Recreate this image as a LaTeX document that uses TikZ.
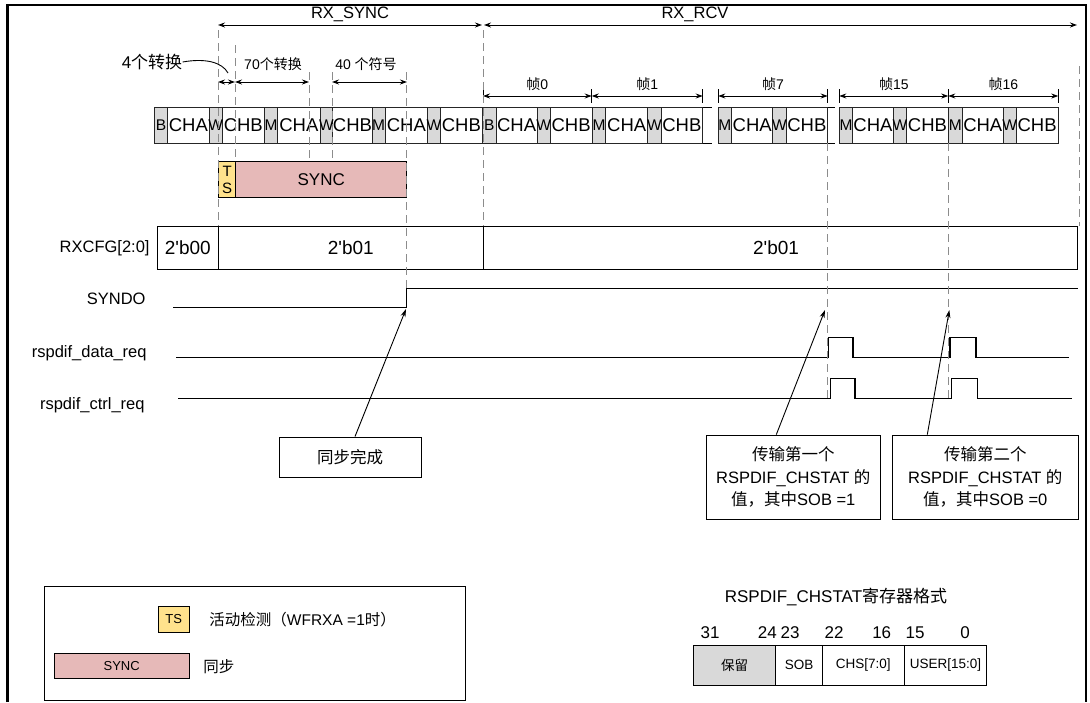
\documentclass[tikz,border=0pt]{standalone}
\usepackage{fontspec}
\usepackage{tikz}
\usetikzlibrary{calc,arrows.meta,positioning}
\newfontfamily\lsans{Liberation Sans}
\newfontfamily\zhfont{Noto Sans CJK SC}
\AtBeginDocument{\lsans}
\newcommand{\zh}[1]{{\zhfont #1}}
\newcommand{\sz}[2]{\fontsize{#1}{#2}\selectfont}
\definecolor{tsyel}{HTML}{FFE28C}
\definecolor{syncpk}{HTML}{E6B9B8}
\definecolor{slotg}{HTML}{D9D9D9}
\tikzset{
  ar/.style={-{Stealth[length=8pt,width=5pt]},line width=0.9pt},
  dimar/.style={{Stealth[length=7pt,width=5pt]}-{Stealth[length=7pt,width=5pt]},line width=0.9pt},
  guide/.style={draw=black!45,line width=1pt,dash pattern=on 8pt off 5pt},
  sig/.style={line width=1.2pt},
  lab/.style={font=\sz{16.5}{19},inner sep=0pt},
  note/.style={font=\sz{14}{17},inner sep=0pt},
  bit/.style={font=\sz{15.5}{18},inner sep=0pt},
  chan/.style={font=\sz{18.5}{21},inner sep=0pt},
  slot/.style={draw=black!85,fill=slotg,line width=0.9pt},
  cell/.style={draw=black!85,line width=0.9pt},
  box/.style={draw,line width=0.9pt,fill=white,align=center,inner sep=0pt,font=\sz{16.5}{22.5}},
  cfgcell/.style={draw,line width=0.9pt,inner sep=0pt,minimum height=43pt,font=\sz{19}{22}},
  regcell/.style={draw,line width=0.9pt,inner sep=0pt,minimum height=40pt,font=\sz{13.5}{16}}
}
\begin{document}
\begin{tikzpicture}[x=1pt,y=-1pt,line width=0.9pt]
\useasboundingbox (0,0) rectangle (1090,702);
\draw[line width=2.4pt] (7.5,702) -- (7.5,5) -- (1086,5) -- (1086,702);

\node[lab] (rxsync) at (350,14) {RX\_SYNC};
\node[lab] (rxrcv) at (695,14) {RX\_RCV};
\draw[dimar] (218,25) -- (482,25);
\draw[dimar] (484,25) -- (1077,25);

\node[font=\sz{17}{20},inner sep=0pt] (n4) at (152,62) {4\zh{个转换}};
\node[note] (n70) at (273,64) {70\zh{个转换}};
\node[note] (n40) at (366,64) {40 \zh{个符号}};
\draw (n4.east) .. controls (205,58) and (222,62) .. (228,73);
\draw[dimar] (218,82) -- (235,82);
\draw[dimar] (235,82) -- (309,82);
\draw[dimar] (332,82) -- (407,82);

\foreach \a/\b/\t [count=\i] in {483/591.7/0, 591.7/702.7/1, 718.3/827.7/7, 839.3/948.3/15, 948.3/1058.3/16}{
  \draw (\a,89) -- (\a,103) (\b,89) -- (\b,103);
  \draw[dimar] (\a,96) -- (\b,96);
  \node[note] (fr\i) at ({(\a+\b)/2},84) {\zh{帧}\t};
}

\foreach \a/\b/\t [count=\i] in {167.7/209/CHA, 222.3/264.3/CHB, 277.7/320/CHA, 332.7/372.3/CHB, 385/427.7/CHA, 440/482.7/CHB, 496/537.3/CHA, 550/592.3/CHB, 605.7/647.7/CHA, 661/702.7/CHB, 731.7/772.7/CHA, 786/827.7/CHB, 852.7/893.3/CHA, 906.7/948.3/CHB, 962.3/1003.3/CHA, 1016/1058.3/CHB}{
  \draw[cell] (\a,107) rectangle (\b,143);
  \node[chan] (ch\i) at ({(\a+\b)/2},125) {\t};
}
\foreach \a/\b/\t [count=\i] in {154.3/167.7/B, 209/222.3/W, 264.3/277.7/M, 320/332.7/W, 372.3/385/M, 427.7/440/W, 482.7/496/B, 537.3/550/W, 592.3/605.7/M, 647.7/661/W, 718/731.7/M, 772.7/786/W, 839.3/852.7/M, 893.3/906.7/W, 948.3/962.3/M, 1003.3/1016/W}{
  \draw[slot] (\a,107) rectangle (\b,143);
  \node[bit] (sl\i) at ({(\a+\b)/2},125) {\t};
}
\draw (702.7,107) -- (712,107) (702.7,143) -- (712,143);
\draw (827.7,107) -- (835,107) (827.7,143) -- (835,143);

\node[draw,fill=tsyel,minimum width=17pt,minimum height=36pt,inner sep=0pt,align=center,font=\sz{15}{17}] (ts) at (227.2,179.7) {T\\S};
\node[draw,fill=syncpk,minimum width=171pt,minimum height=36pt,inner sep=0pt,font=\sz{17}{20}] (sync) at (321.2,179.7) {SYNC};

\node[lab,anchor=east] (cfg) at (150,248) {RXCFG[2:0]};
\node[cfgcell,minimum width=61.7pt] (c0) at (187.85,247.5) {2'b00};
\node[cfgcell,minimum width=264.3pt] (c1) at (350.85,247.5) {2'b01};
\node[cfgcell,minimum width=594pt] (c2) at (780,247.5) {};
\node[font=\sz{19}{22},inner sep=0pt] (c2v) at (776,247.5) {2'b01};

\node[lab,anchor=east] (syndo) at (146,299) {SYNDO};
\node[lab,anchor=east] (dreq) at (147,353) {rspdif\_data\_req};
\node[lab,anchor=east] (creq) at (145,405) {rspdif\_ctrl\_req};
\draw[sig] (173,307.3) -- (406.7,307.3) -- (406.7,288.3) -- (1078,288.3);
\draw[sig] (176,357.7) -- (828.3,357.7) -- (828.3,337.7) -- (853,337.7) -- (853,357.7) -- (950,357.7) -- (950,337.7) -- (976,337.7) -- (976,357.7) -- (1069.3,357.7);
\draw[sig] (178,398.3) -- (830.7,398.3) -- (830.7,378.3) -- (855,378.3) -- (855,398.3) -- (951.7,398.3) -- (951.7,378.3) -- (977.7,378.3) -- (977.7,398.3) -- (1071.7,398.3);

\foreach \x/\a/\b in {218/30/226, 235/45/162, 309/72/162, 332/72/162, 406.7/72/288, 483/30/226, 827.7/143/398, 948.3/143/398, 1079/66/226}
  \draw[guide] (\x,\a) -- (\x,\b);

\coordinate (syncpt) at (406,309);
\coordinate (firstpt) at (825,310);
\coordinate (secondpt) at (949.3,310);
\node[box,minimum width=142pt,minimum height=40pt] (done) at (350,457) {\zh{同步完成}};
\node[box,minimum width=174.7pt,minimum height=84.3pt] (first) at (793.3,477.2) {\zh{传输第一个}\\RSPDIF\_CHSTAT \zh{的}\\\zh{值，其中}SOB =1};
\node[box,minimum width=186pt,minimum height=84.3pt] (second) at (985.3,477.2) {\zh{传输第二个}\\RSPDIF\_CHSTAT \zh{的}\\\zh{值，其中}SOB =0};
\draw[ar] ($(done.north)+(5,0)$) -- (syncpt);
\draw[ar] ($(first.north)+(-17,0)$) -- (firstpt);
\draw[ar] ($(second.north)+(-58,0)$) -- (secondpt);

\draw (44.3,586) rectangle (465,700);
\node[draw,fill=tsyel,minimum width=31pt,minimum height=25.6pt,inner sep=0pt,font=\sz{13}{15}] (lgts) at (173.8,619.5) {TS};
\node[font=\sz{15.5}{18},inner sep=0pt,anchor=west] (lgtstx) at (209,620) {\zh{活动检测（}WFRXA =1\zh{时）}};
\node[draw,fill=syncpk,minimum width=135.3pt,minimum height=25pt,inner sep=0pt,font=\sz{13}{15}] (lgsync) at (121.7,665.8) {SYNC};
\node[font=\sz{15.5}{18},inner sep=0pt,anchor=west] (lgsynctx) at (203,666.7) {\zh{同步}};

\node[font=\sz{17}{20},inner sep=0pt] (regt) at (836,597) {RSPDIF\_CHSTAT\zh{寄存器格式}};
\foreach \x/\t [count=\i] in {710/31, 767.3/24, 790/23, 834/22, 881.7/16, 915/15, 965/0}
  \node[font=\sz{17}{20},inner sep=0pt] (bn\i) at (\x,633) {\t};
\node[regcell,fill=slotg,minimum width=82.4pt] (rsv) at (734.5,665) {\zh{保留}};
\node[regcell,minimum width=46.6pt] (sob) at (799,665) {SOB};
\node[regcell,minimum width=82pt] (chs) at (863.3,665) {CHS[7:0]};
\node[regcell,minimum width=82.4pt] (usr) at (945.5,665) {USER[15:0]};
\end{tikzpicture}
\end{document}
